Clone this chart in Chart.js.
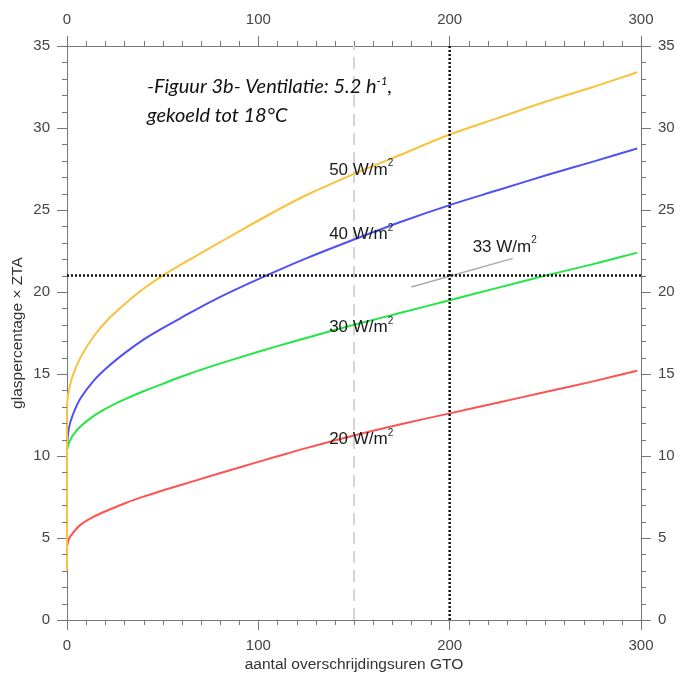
<!DOCTYPE html>
<html>
<head>
<meta charset="utf-8">
<script src="https://cdn.jsdelivr.net/npm/chart.js@4"></script>
<style>
  body { margin: 0; background: #fff; }
  canvas { display: block; }
</style>
</head>
<body>
<canvas id="chart" width="680" height="675"></canvas>
<script>
// aantal overschrijdingsuren GTO (x) en glaspercentage x ZTA per koellast
const uren = [0, 1, 3, 7, 14, 22, 31, 40, 50, 60, 75, 90, 110, 125, 150, 175, 200, 225, 250, 275, 298];
const w50 = [13.0, 14.0, 14.9, 16.0, 17.3, 18.4, 19.35, 20.2, 21.0, 21.7, 22.7, 23.7, 25.0, 25.9, 27.2, 28.4, 29.6, 30.6, 31.6, 32.5, 33.4];
const w50Start = 3.0;
const w40 = [10.7, 11.7, 12.5, 13.5, 14.6, 15.5, 16.35, 17.1, 17.8, 18.45, 19.4, 20.25, 21.3, 22.05, 23.2, 24.3, 25.3, 26.2, 27.1, 27.95, 28.75];
const w30 = [10.35, 10.8, 11.25, 11.8, 12.45, 13.0, 13.5, 13.95, 14.4, 14.85, 15.45, 16.0, 16.7, 17.2, 18.0, 18.75, 19.5, 20.25, 21.0, 21.7, 22.4];
const w20 = [4.45, 4.95, 5.3, 5.8, 6.3, 6.72, 7.15, 7.52, 7.9, 8.25, 8.78, 9.3, 9.98, 10.48, 11.25, 11.95, 12.6, 13.25, 13.9, 14.55, 15.2];

// hulplijnen
const grensGlas = 21;
const grensUren = 200;
const middenUren = 150;
const lijn33Uren = [180, 233];
const lijn33Glas = [20.3, 22.05];

const xTicks = [0, 100, 200, 300];
const yTicks = [0, 5, 10, 15, 20, 25, 30, 35];

const pts = (xs, ys) => xs.map((x, i) => ({ x: x, y: ys[i] }));

const curve = (data, color) => ({
    data: data,
    borderColor: color,
    borderWidth: 2,
    pointRadius: 0,
    tension: 0.3,
    clip: false,
    order: 2
});

// kleine streepjes langs de assen
const minorTicks = {
    id: 'minorTicks',
    afterDraw(chart) {
        const ctx = chart.ctx;
        ctx.save();
        ctx.strokeStyle = '#777';
        ctx.lineWidth = 1;
        Object.values(chart.scales).forEach(s => {
            const hor = s.isHorizontal();
            const step = hor ? 10 : 1;
            const major = hor ? 100 : 5;
            for (let v = s.min; v <= s.max; v += step) {
                if (v % major === 0) continue;
                const p = Math.round(s.getPixelForValue(v)) + 0.5;
                ctx.beginPath();
                if (s.position === 'bottom') { ctx.moveTo(p, s.top); ctx.lineTo(p, s.top + 5); }
                else if (s.position === 'top') { ctx.moveTo(p, s.bottom); ctx.lineTo(p, s.bottom - 5); }
                else if (s.position === 'left') { ctx.moveTo(s.right, p); ctx.lineTo(s.right - 5, p); }
                else { ctx.moveTo(s.left, p); ctx.lineTo(s.left + 5, p); }
                ctx.stroke();
            }
        });
        ctx.restore();
    }
};

function drawParts(ctx, parts, x, y, size, family, style) {
    parts.forEach(part => {
        const fs = part.sup ? Math.round(size * 0.6) : size;
        ctx.font = `${style} ${fs}px ${family}`;
        ctx.fillText(part.t, x, part.sup ? y - size * 0.38 : y);
        x += ctx.measureText(part.t).width;
    });
}

const curveLabels = [
    { nr: '50', x: 137, y: 27.45 },
    { nr: '40', x: 137, y: 23.5 },
    { nr: '33', x: 212, y: 22.75 },
    { nr: '30', x: 137, y: 17.85 },
    { nr: '20', x: 137, y: 11.0 }
];

const teksten = {
    id: 'teksten',
    afterDraw(chart) {
        const ctx = chart.ctx;
        const sx = chart.scales.x, sy = chart.scales.y;
        ctx.save();
        ctx.fillStyle = '#1a1a1a';
        ctx.textBaseline = 'middle';
        ctx.textAlign = 'left';
        curveLabels.forEach(l => {
            drawParts(ctx, [{ t: l.nr + ' W/m' }, { t: '2', sup: true }],
                sx.getPixelForValue(l.x), sy.getPixelForValue(l.y), 17, '"Liberation Sans", Arial, sans-serif', 'normal');
        });
        ctx.textBaseline = 'alphabetic';
        ctx.fillStyle = '#111';
        drawParts(ctx, [{ t: '-Figuur 3b- Ventilatie: 5.2 h' }, { t: '-1', sup: true }, { t: ',' }],
            147, 93, 20, 'Lato, "Open Sans", sans-serif', 'italic');
        drawParts(ctx, [{ t: 'gekoeld tot 18°C' }], 147, 122, 20, 'Lato, "Open Sans", sans-serif', 'italic');
        ctx.restore();
    }
};

const tickFont = { family: '"Liberation Sans", Arial, sans-serif', size: 15 };
const titleFont = { family: '"Liberation Sans", Arial, sans-serif', size: 15.5 };

const axis = (position, min, max, size, title) => ({
    type: 'linear',
    position: position,
    min: min,
    max: max,
    afterFit(s) { if (s.isHorizontal()) s.height = size; else s.width = size; },
    afterBuildTicks(s) { s.ticks = (s.isHorizontal() ? xTicks : yTicks).map(v => ({ value: v })); },
    ticks: { color: '#444', font: tickFont, padding: 7 },
    grid: { drawOnChartArea: false, drawTicks: true, tickLength: 10, tickColor: '#777' },
    border: { color: '#777', width: 1 },
    title: title
});

new Chart(document.getElementById('chart'), {
    type: 'line',
    data: {
        datasets: [
            {
                data: pts([0, 300], [grensGlas, grensGlas]),
                borderColor: '#111', borderWidth: 2.5, borderDash: [2, 2],
                pointRadius: 0, order: 1
            },
            {
                data: pts([grensUren, grensUren], [0, 35]),
                borderColor: '#111', borderWidth: 2.5, borderDash: [2, 2],
                pointRadius: 0, order: 1
            },
            {
                data: pts(lijn33Uren, lijn33Glas),
                borderColor: '#aaa', borderWidth: 1.5,
                pointRadius: 0, order: 1
            },
            curve([{ x: 0, y: w50Start }].concat(pts(uren, w50)), '#f9c23c'),
            curve(pts(uren, w40), '#5050f5'),
            curve(pts(uren, w30), '#22e644'),
            curve(pts(uren, w20), '#ff5252'),
            {
                data: pts([middenUren, middenUren], [0, 35]),
                borderColor: '#d4d4d4', borderWidth: 2, borderDash: [12, 7],
                pointRadius: 0, order: 3
            }
        ]
    },
    options: {
        responsive: false,
        animation: false,
        devicePixelRatio: 1,
        layout: { padding: 0 },
        plugins: { legend: { display: false }, tooltip: { enabled: false } },
        scales: {
            x: axis('bottom', 0, 300, 55, {
                display: true, text: 'aantal overschrijdingsuren GTO', color: '#333',
                font: titleFont, padding: { top: 0, bottom: 1 }
            }),
            x2: axis('top', 0, 300, 46, { display: false }),
            y: axis('left', 0, 35, 67, {
                display: true, text: 'glaspercentage × ZTA', color: '#333',
                font: titleFont, padding: { top: 8, bottom: 0 }
            }),
            y2: axis('right', 0, 35, 39, { display: false })
        }
    },
    plugins: [minorTicks, teksten]
});
</script>
</body>
</html>
